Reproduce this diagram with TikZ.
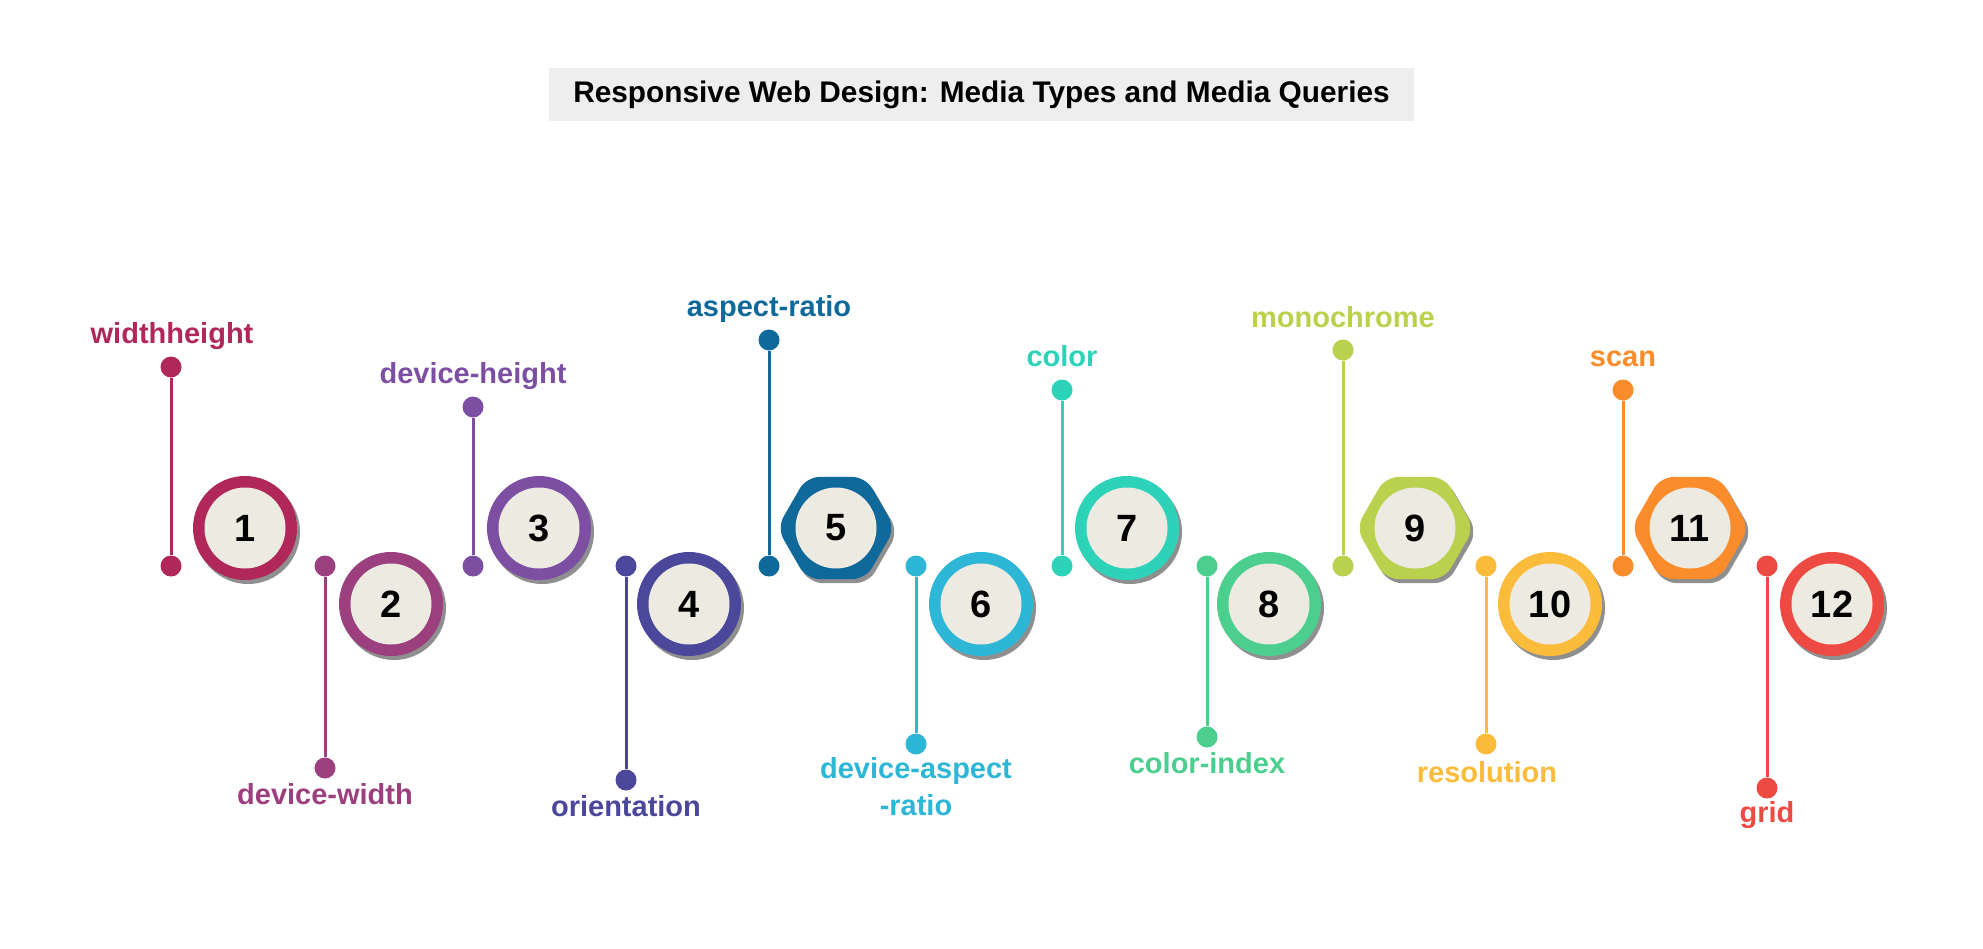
\documentclass[tikz,border=0pt]{standalone}
\usepackage{fontspec}
\setmainfont{Liberation Sans}
\usetikzlibrary{shapes.geometric,shadows}
\definecolor{c1}{HTML}{B0275A}
\definecolor{c2}{HTML}{9C3F7F}
\definecolor{c3}{HTML}{7D4FA2}
\definecolor{c4}{HTML}{4B479A}
\definecolor{c5}{HTML}{0F6A9B}
\definecolor{c6}{HTML}{2DB6D6}
\definecolor{c7}{HTML}{2DD3B9}
\definecolor{c8}{HTML}{4CCF8E}
\definecolor{c9}{HTML}{BAD14D}
\definecolor{c10}{HTML}{FBBB3B}
\definecolor{c11}{HTML}{FA8C2B}
\definecolor{c12}{HTML}{EE4A44}
\definecolor{corefill}{HTML}{EDEAE1}
\definecolor{titlebg}{HTML}{EEEEEE}
\definecolor{shd}{HTML}{8F8F8F}
\begin{document}
\begin{tikzpicture}[x=1pt,y=-1pt,
  ringc/.style={circle, minimum size=104pt, inner sep=0pt, fill=#1,
    drop shadow={shadow xshift=3pt, shadow yshift=-4pt, fill=shd, opacity=1}},
  hexc/.style={regular polygon, regular polygon sides=6, minimum size=118pt, inner sep=0pt,
    fill=#1, rounded corners=13pt,
    drop shadow={shadow xshift=3pt, shadow yshift=-4pt, fill=shd, opacity=1}},
  core/.style={circle, minimum size=81pt, inner sep=0pt, fill=corefill,
    font=\fontsize{38}{40}\selectfont\bfseries, text=black},
  enddot/.style={circle, minimum size=21pt, inner sep=0pt, fill=#1},
  lbl/.style={text=#1, anchor=base, inner sep=0pt, align=center,
    font=\fontsize{29}{37}\selectfont\bfseries},
  conn/.style={draw=#1, line width=3pt},
  titlebox/.style={fill=titlebg, minimum width=865pt, minimum height=53pt, inner sep=0pt,
    font=\fontsize{29.8}{32}\selectfont\bfseries}
]
\path[use as bounding box] (0,0) rectangle (1983,948);
\node[titlebox] (title) at (981.5,94.5) {Responsive Web Design: Media Types and Media Queries};

% 1
\node[ringc=c1] (r1) at (245,528) {};
\node[core] (n1) at (r1.center) {1};
\node[enddot=c1] (d1) at (171,566) {};
\node[enddot=c1] (e1) at (171,367) {};
\draw[conn=c1] (d1) -- (e1);
\node[lbl=c1] (l1) at (172,343) {widthheight};
% 2
\node[ringc=c2] (r2) at (391,604) {};
\node[core] (n2) at (r2.center) {2};
\node[enddot=c2] (d2) at (325,566) {};
\node[enddot=c2] (e2) at (325,768) {};
\draw[conn=c2] (d2) -- (e2);
\node[lbl=c2] (l2) at (325,804) {device-width};
% 3
\node[ringc=c3] (r3) at (539,528) {};
\node[core] (n3) at (r3.center) {3};
\node[enddot=c3] (d3) at (473,566) {};
\node[enddot=c3] (e3) at (473,407) {};
\draw[conn=c3] (d3) -- (e3);
\node[lbl=c3] (l3) at (473,383) {device-height};
% 4
\node[ringc=c4] (r4) at (689,604) {};
\node[core] (n4) at (r4.center) {4};
\node[enddot=c4] (d4) at (626,566) {};
\node[enddot=c4] (e4) at (626,780) {};
\draw[conn=c4] (d4) -- (e4);
\node[lbl=c4] (l4) at (626,816) {orientation};
% 5
\node[hexc=c5] (r5) at (836,528) {};
\node[core] (n5) at (r5.center) {5};
\node[enddot=c5] (d5) at (769,566) {};
\node[enddot=c5] (e5) at (769,340) {};
\draw[conn=c5] (d5) -- (e5);
\node[lbl=c5] (l5) at (769,316) {aspect-ratio};
% 6
\node[ringc=c6] (r6) at (981,604) {};
\node[core] (n6) at (r6.center) {6};
\node[enddot=c6] (d6) at (916,566) {};
\node[enddot=c6] (e6) at (916,744) {};
\draw[conn=c6] (d6) -- (e6);
\node[lbl=c6] (l6) at (916,815) {device-aspect\\-ratio};
% 7
\node[ringc=c7] (r7) at (1127,528) {};
\node[core] (n7) at (r7.center) {7};
\node[enddot=c7] (d7) at (1062,566) {};
\node[enddot=c7] (e7) at (1062,390) {};
\draw[conn=c7] (d7) -- (e7);
\node[lbl=c7] (l7) at (1062,366) {color};
% 8
\node[ringc=c8] (r8) at (1269,604) {};
\node[core] (n8) at (r8.center) {8};
\node[enddot=c8] (d8) at (1207,566) {};
\node[enddot=c8] (e8) at (1207,737) {};
\draw[conn=c8] (d8) -- (e8);
\node[lbl=c8] (l8) at (1207,773) {color-index};
% 9
\node[hexc=c9] (r9) at (1415,528) {};
\node[core] (n9) at (r9.center) {9};
\node[enddot=c9] (d9) at (1343,566) {};
\node[enddot=c9] (e9) at (1343,350) {};
\draw[conn=c9] (d9) -- (e9);
\node[lbl=c9] (l9) at (1343,327) {monochrome};
% 10
\node[ringc=c10] (r10) at (1550,604) {};
\node[core] (n10) at (r10.center) {10};
\node[enddot=c10] (d10) at (1486,566) {};
\node[enddot=c10] (e10) at (1486,744) {};
\draw[conn=c10] (d10) -- (e10);
\node[lbl=c10] (l10) at (1487,782) {resolution};
% 11
\node[hexc=c11] (r11) at (1690,528) {};
\node[core] (n11) at (r11.center) {11};
\node[enddot=c11] (d11) at (1623,566) {};
\node[enddot=c11] (e11) at (1623,390) {};
\draw[conn=c11] (d11) -- (e11);
\node[lbl=c11] (l11) at (1623,366) {scan};
% 12
\node[ringc=c12] (r12) at (1832,604) {};
\node[core] (n12) at (r12.center) {12};
\node[enddot=c12] (d12) at (1767,566) {};
\node[enddot=c12] (e12) at (1767,788) {};
\draw[conn=c12] (d12) -- (e12);
\node[lbl=c12] (l12) at (1767,822) {grid};
\end{tikzpicture}
\end{document}
